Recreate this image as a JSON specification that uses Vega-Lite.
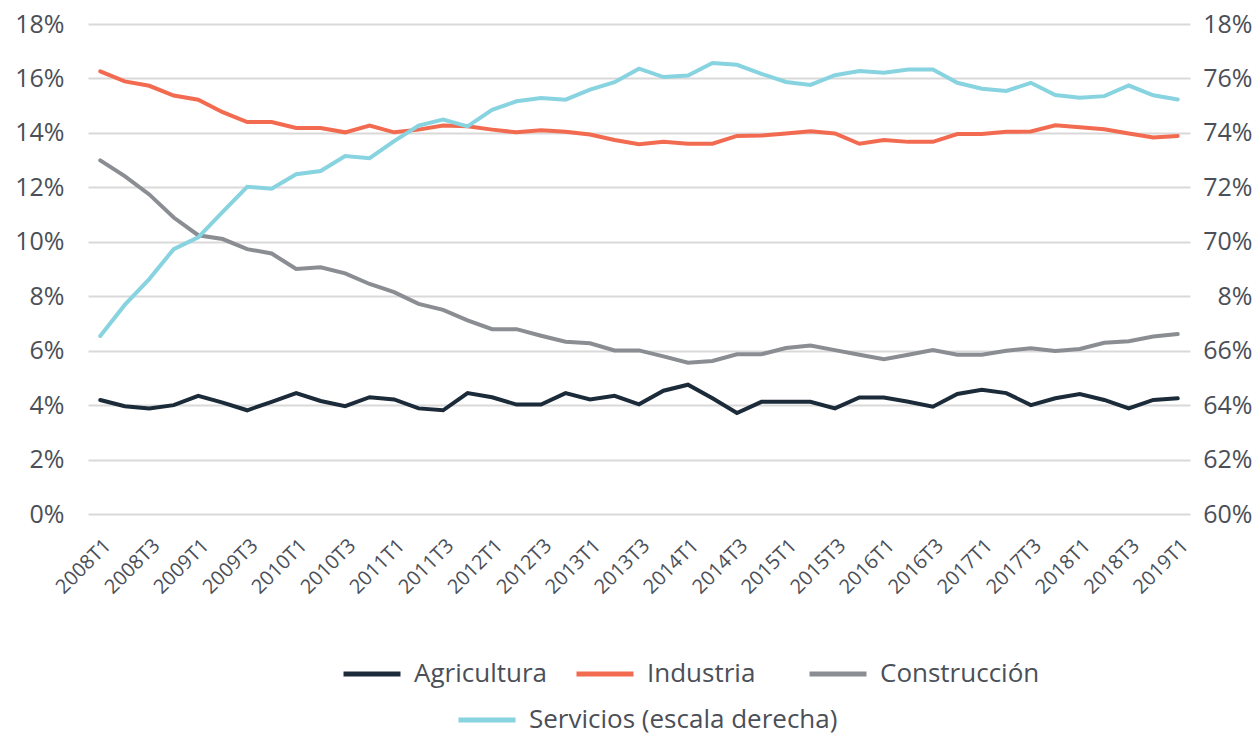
{
  "$schema": "https://vega.github.io/schema/vega-lite/v6.json",
  "width": 1102,
  "height": 490,
  "autosize": {"type": "none"},
  "padding": {"left": 88, "top": 24, "right": 67, "bottom": 221},
  "background": "white",
  "config": {
    "view": {"stroke": null},
    "font": "Open Sans",
    "axis": {"labelFont": "Open Sans", "labelColor": "#4b4f58", "domain": false, "ticks": false, "title": null},
    "legend": {"labelFont": "Open Sans", "labelColor": "#4b4f58"}
  },
  "data": {
    "values": [
      {"q": "2008T1", "Agricultura": 4.19, "Industria": 16.26, "Construcción": 12.99, "Servicios": 66.54},
      {"q": "2008T2", "Agricultura": 3.96, "Industria": 15.89, "Construcción": 12.41, "Servicios": 67.68},
      {"q": "2008T3", "Agricultura": 3.88, "Industria": 15.73, "Construcción": 11.74, "Servicios": 68.63},
      {"q": "2008T4", "Agricultura": 4.00, "Industria": 15.37, "Construcción": 10.89, "Servicios": 69.73},
      {"q": "2009T1", "Agricultura": 4.34, "Industria": 15.22, "Construcción": 10.24, "Servicios": 70.16},
      {"q": "2009T2", "Agricultura": 4.09, "Industria": 14.76, "Construcción": 10.10, "Servicios": 71.10},
      {"q": "2009T3", "Agricultura": 3.81, "Industria": 14.40, "Construcción": 9.73, "Servicios": 72.02},
      {"q": "2009T4", "Agricultura": 4.12, "Industria": 14.40, "Construcción": 9.57, "Servicios": 71.95},
      {"q": "2010T1", "Agricultura": 4.44, "Industria": 14.18, "Construcción": 9.00, "Servicios": 72.48},
      {"q": "2010T2", "Agricultura": 4.15, "Industria": 14.18, "Construcción": 9.06, "Servicios": 72.60},
      {"q": "2010T3", "Agricultura": 3.96, "Industria": 14.02, "Construcción": 8.84, "Servicios": 73.15},
      {"q": "2010T4", "Agricultura": 4.29, "Industria": 14.27, "Construcción": 8.45, "Servicios": 73.07},
      {"q": "2011T1", "Agricultura": 4.21, "Industria": 14.02, "Construcción": 8.15, "Servicios": 73.70},
      {"q": "2011T2", "Agricultura": 3.88, "Industria": 14.12, "Construcción": 7.72, "Servicios": 74.27},
      {"q": "2011T3", "Agricultura": 3.81, "Industria": 14.27, "Construcción": 7.50, "Servicios": 74.49},
      {"q": "2011T4", "Agricultura": 4.44, "Industria": 14.24, "Construcción": 7.11, "Servicios": 74.24},
      {"q": "2012T1", "Agricultura": 4.29, "Industria": 14.12, "Construcción": 6.79, "Servicios": 74.85},
      {"q": "2012T2", "Agricultura": 4.02, "Industria": 14.02, "Construcción": 6.79, "Servicios": 75.16},
      {"q": "2012T3", "Agricultura": 4.02, "Industria": 14.10, "Construcción": 6.55, "Servicios": 75.28},
      {"q": "2012T4", "Agricultura": 4.44, "Industria": 14.04, "Construcción": 6.33, "Servicios": 75.22},
      {"q": "2013T1", "Agricultura": 4.21, "Industria": 13.94, "Construcción": 6.27, "Servicios": 75.59},
      {"q": "2013T2", "Agricultura": 4.34, "Industria": 13.74, "Construcción": 6.01, "Servicios": 75.86},
      {"q": "2013T3", "Agricultura": 4.03, "Industria": 13.58, "Construcción": 6.01, "Servicios": 76.36},
      {"q": "2013T4", "Agricultura": 4.53, "Industria": 13.67, "Construcción": 5.79, "Servicios": 76.05},
      {"q": "2014T1", "Agricultura": 4.75, "Industria": 13.60, "Construcción": 5.56, "Servicios": 76.11},
      {"q": "2014T2", "Agricultura": 4.25, "Industria": 13.60, "Construcción": 5.62, "Servicios": 76.57},
      {"q": "2014T3", "Agricultura": 3.71, "Industria": 13.89, "Construcción": 5.87, "Servicios": 76.50},
      {"q": "2014T4", "Agricultura": 4.12, "Industria": 13.90, "Construcción": 5.87, "Servicios": 76.17},
      {"q": "2015T1", "Agricultura": 4.12, "Industria": 13.98, "Construcción": 6.10, "Servicios": 75.87},
      {"q": "2015T2", "Agricultura": 4.12, "Industria": 14.06, "Construcción": 6.19, "Servicios": 75.76},
      {"q": "2015T3", "Agricultura": 3.88, "Industria": 13.98, "Construcción": 6.02, "Servicios": 76.12},
      {"q": "2015T4", "Agricultura": 4.28, "Industria": 13.60, "Construcción": 5.85, "Servicios": 76.27},
      {"q": "2016T1", "Agricultura": 4.28, "Industria": 13.74, "Construcción": 5.69, "Servicios": 76.21},
      {"q": "2016T2", "Agricultura": 4.12, "Industria": 13.67, "Construcción": 5.85, "Servicios": 76.33},
      {"q": "2016T3", "Agricultura": 3.94, "Industria": 13.67, "Construcción": 6.02, "Servicios": 76.33},
      {"q": "2016T4", "Agricultura": 4.41, "Industria": 13.96, "Construcción": 5.85, "Servicios": 75.84},
      {"q": "2017T1", "Agricultura": 4.56, "Industria": 13.96, "Construcción": 5.85, "Servicios": 75.62},
      {"q": "2017T2", "Agricultura": 4.44, "Industria": 14.04, "Construcción": 6.00, "Servicios": 75.54},
      {"q": "2017T3", "Agricultura": 4.00, "Industria": 14.05, "Construcción": 6.09, "Servicios": 75.84},
      {"q": "2017T4", "Agricultura": 4.25, "Industria": 14.28, "Construcción": 5.99, "Servicios": 75.39},
      {"q": "2018T1", "Agricultura": 4.41, "Industria": 14.21, "Construcción": 6.06, "Servicios": 75.29},
      {"q": "2018T2", "Agricultura": 4.19, "Industria": 14.13, "Construcción": 6.29, "Servicios": 75.35},
      {"q": "2018T3", "Agricultura": 3.88, "Industria": 13.98, "Construcción": 6.35, "Servicios": 75.74},
      {"q": "2018T4", "Agricultura": 4.19, "Industria": 13.83, "Construcción": 6.52, "Servicios": 75.38},
      {"q": "2019T1", "Agricultura": 4.25, "Industria": 13.89, "Construcción": 6.61, "Servicios": 75.23}
    ]
  },
  "encoding": {
    "x": {
      "field": "q",
      "type": "ordinal",
      "sort": null,
      "scale": {"type": "point", "padding": 0.5},
      "axis": {
        "values": ["2008T1","2008T3","2009T1","2009T3","2010T1","2010T3","2011T1","2011T3","2012T1","2012T3","2013T1","2013T3","2014T1","2014T3","2015T1","2015T3","2016T1","2016T3","2017T1","2017T3","2018T1","2018T3","2019T1"],
        "labelAngle": -45,
        "labelFontSize": 20,
        "labelPadding": 21,
        "grid": false
      }
    }
  },
  "layer": [
    {
      "transform": [{"fold": ["Agricultura", "Industria", "Construcción"], "as": ["serie", "valor"]}],
      "mark": {"type": "line", "strokeWidth": 4, "strokeJoin": "miter", "strokeCap": "round"},
      "encoding": {
        "y": {
          "field": "valor",
          "type": "quantitative",
          "scale": {"domain": [0, 18], "nice": false, "zero": false},
          "axis": {
            "values": [0,2,4,6,8,10,12,14,16,18],
            "labelExpr": "datum.value + '%'",
            "labelFontSize": 25,
            "labelPadding": 24,
            "grid": true,
            "gridColor": "#d9d9d9",
            "gridWidth": 2
          }
        },
        "color": {
          "field": "serie",
          "type": "nominal",
          "scale": {"domain": ["Agricultura", "Industria", "Construcción"], "range": ["#1c2b39", "#f26b50", "#8a8d92"]},
          "legend": {
            "title": null,
            "orient": "none",
            "legendX": 253,
            "legendY": 619,
            "direction": "horizontal",
            "columns": 3,
            "gridAlign": "all",
            "columnPadding": -16,
            "symbolType": "stroke",
            "symbolSize": 3249,
            "symbolStrokeWidth": 5,
            "labelFontSize": 26,
            "labelOffset": 11,
            "labelLimit": 400
          }
        }
      }
    },
    {
      "mark": {"type": "line", "strokeWidth": 4, "strokeJoin": "miter", "strokeCap": "round"},
      "encoding": {
        "y": {
          "field": "Servicios",
          "type": "quantitative",
          "scale": {"domain": [60, 78], "nice": false, "zero": false},
          "axis": {
            "orient": "right",
            "values": [60,62,64,66,68,70,72,74,76,78],
            "labelExpr": "datum.value == 78 ? '18%' : datum.value == 68 ? '8%' : datum.value + '%'",
            "labelFontSize": 25,
            "labelAlign": "right",
            "labelPadding": 62,
            "grid": false
          }
        },
        "color": {
          "datum": "Servicios (escala derecha)",
          "type": "nominal",
          "scale": {"range": ["#88d3e0"]},
          "legend": {
            "title": null,
            "orient": "none",
            "legendX": 368,
            "legendY": 665,
            "symbolType": "stroke",
            "symbolSize": 3249,
            "symbolStrokeWidth": 5,
            "labelFontSize": 26,
            "labelOffset": 11,
            "labelLimit": 400
          }
        }
      }
    }
  ],
  "resolve": {"scale": {"y": "independent", "color": "independent"}}
}
